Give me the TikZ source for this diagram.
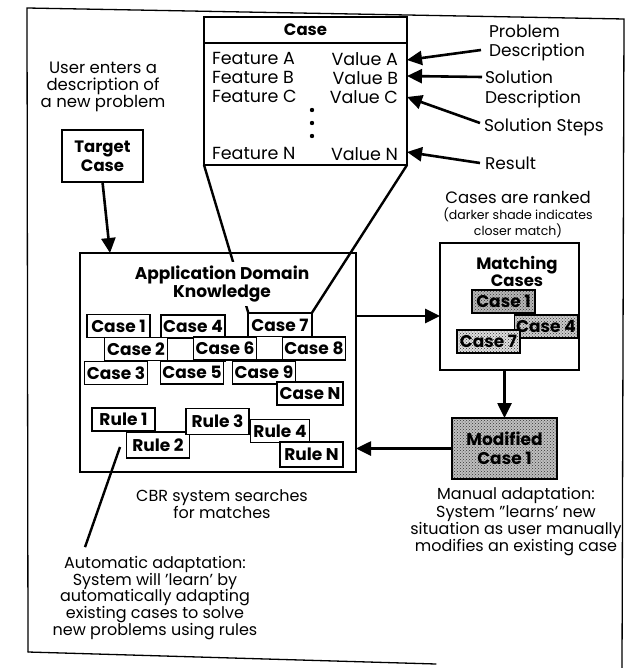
\documentclass[tikz,border=0pt]{standalone}
\usepackage{fontspec}
\setmainfont{Poppins}
\usetikzlibrary{arrows.meta,patterns,calc}

\tikzset{
  every node/.style={inner sep=0pt, outer sep=0pt},
  txt/.style={font=\fontsize{16}{16.8}\selectfont, align=center},
  side/.style={font=\fontsize{17}{19.5}\selectfont, align=left},
  field/.style={font=\fontsize{17.5}{18}\selectfont},
  small/.style={font=\fontsize{12.5}{15.5}\selectfont, align=center},
  cbox/.style={draw, fill=white, line width=1.3pt, minimum width=63pt,
    minimum height=23pt, font=\bfseries\fontsize{17}{17}\selectfont},
  shaded/.style={cbox, preaction={fill=black!#1}, pattern=crosshatch dots,
    pattern color=black!80},
  bigbox/.style={draw, fill=white, line width=2pt},
  arr/.style={line width=2.6pt, -{Triangle[length=15pt,width=14pt]}},
  zoomline/.style={line width=2.4pt},
  frame/.style={line width=1.3pt, line cap=round}
}

\begin{document}
\begin{tikzpicture}[x=1pt,y=-1pt]
\useasboundingbox (0,0) rectangle (634,668);

% outer frame
\draw[frame] (28,652) -- (27,8) -- (624,19) -- (622,668);
\draw[frame] (28,652) -- (436,664);

% the case record
\node[bigbox, minimum width=203pt, minimum height=148pt] (case) at (305.5,91) {};
\draw[line width=2pt] (case.west |- 0,43) -- (case.east |- 0,43);
\node[font=\bfseries\fontsize{16.5}{17}\selectfont] (casetitle) at (305.5,30) {Case};
\node[field, anchor=west] (fA) at (212,58) {Feature A};
\node[field, anchor=west] (fB) at (212,77) {Feature B};
\node[field, anchor=west] (fC) at (212,96) {Feature C};
\node[field, anchor=west] (fN) at (212,153) {Feature N};
\node[field, anchor=east] (vA) at (398,59) {Value A};
\node[field, anchor=east] (vB) at (398,78) {Value B};
\node[field, anchor=east] (vC) at (398,97) {Value C};
\node[field, anchor=east] (vN) at (398,154) {Value N};
\foreach \yy in {110,123,136} \fill (312,\yy) circle (2.2pt);

% field annotations
\node[side, anchor=west] (prob) at (489,43) {Problem\\Description};
\node[side, anchor=west] (sol) at (485,89) {Solution\\Description};
\node[side, anchor=west] (steps) at (484,127) {Solution Steps};
\node[side, anchor=west] (res) at (485,163) {Result};
\coordinate (probT) at (481,50);
\coordinate (solT) at (482,77);
\coordinate (stepsT) at (480,123);
\coordinate (resT) at (480,163);
\draw[arr] (probT) -- (case.east |- 0,60);
\draw[arr] (solT) -- (case.east |- 0,76);
\draw[arr] (stepsT) -- (case.east |- 0,97);
\draw[arr] (resT) -- (case.east |- 0,152);

% user input
\node[txt, font=\fontsize{16.5}{16.8}\selectfont] (user) at (103,87) {User enters a\\description of\\a new problem};
\node[bigbox, minimum width=81pt, minimum height=52pt, align=center,
  font=\bfseries\fontsize{16.5}{19}\selectfont] (target) at (102.5,156) {Target\\Case};

% application domain knowledge
\node[bigbox, minimum width=276pt, minimum height=219pt] (adk) at (218,362.5) {};
\coordinate (adkin) at (110,253);
\draw[arr] (target.south) -- (adkin);

% cases held in the knowledge base
\draw[line width=1.3pt, fill=white] (161,315) rectangle (225,361);
\draw[line width=1.3pt, fill=white] (248,313) rectangle (312,360);
\node[cbox] (c1) at (118.5,326) {Case 1};
\node[cbox] (c4) at (193,326.5) {Case 4};
\node[cbox] (c7) at (280,325) {Case 7};
\node[cbox] (c2) at (136,349) {Case 2};
\node[cbox] (c6) at (225,348.5) {Case 6};
\node[cbox] (c8) at (314,348.5) {Case 8};
\node[cbox] (c3) at (116,373) {Case 3};
\node[cbox] (c5) at (192,372.5) {Case 5};
\node[cbox] (c9) at (264,372.5) {Case 9};
\node[cbox, minimum width=66pt] (cN) at (310,393.5) {Case N};

% rules
\node[cbox] (r1) at (123.5,419.5) {Rule 1};
\node[cbox, minimum height=26pt] (r2) at (158,445) {Rule 2};
\node[cbox, minimum height=26pt] (r3) at (217.5,421.5) {Rule 3};
\node[cbox, minimum width=59pt] (r4) at (280,431) {Rule 4};
\node[cbox, minimum height=25pt] (rN) at (311.5,454.5) {Rule N};

% lines opening the case record out of Case 7
\draw[zoomline] (case.south west) -- (c7.north west);
\draw[zoomline] (case.south east) -- (c7.north east);
\node[align=center, fill=white, inner xsep=3pt, inner ysep=4pt,
  font=\bfseries\fontsize{17}{16.5}\selectfont] (adktitle) at (222,284)
  {Application Domain\\Knowledge};

% matching cases
\node[bigbox, minimum width=139pt, minimum height=127pt] (match) at (509.5,306.5) {};
\node[align=center, font=\bfseries\fontsize{16.5}{17.5}\selectfont] (matchtitle)
  at (517,271.5) {Matching\\Cases};
\node[shaded=28] (m1) at (503.5,301.5) {Case 1};
\node[shaded=20] (m4) at (546,326.5) {Case 4};
\node[shaded=12] (m7) at (488.5,341.5) {Case 7};
\node[txt, font=\fontsize{16.5}{17}\selectfont] (ranked) at (518,197) {Cases are ranked};
\node[small] (shade) at (518,223) {(darker shade indicates\\closer match)};

\coordinate (srch) at (356,316);
\draw[arr] (srch) -- (srch -| match.west);

% modified case
\node[bigbox, minimum width=105pt, minimum height=61pt, align=center,
  preaction={fill=black!25}, pattern=crosshatch dots, pattern color=black!80,
  font=\bfseries\fontsize{17}{19}\selectfont] (mod) at (504.5,448.5) {Modified\\Case 1};
\draw[arr] (match.south -| mod.north) -- (mod.north);
\draw[arr] (mod.west) -- (mod.west -| adk.east);

% captions
\node[txt] (cbr) at (222,504) {CBR system searches\\for matches};
\node[txt, font=\fontsize{16}{17.3}\selectfont] (manual) at (516,522) {Manual adaptation:\\System "learns' new\\situation as user manually\\modifies an existing case};
\node[txt] (auto) at (155,598) {Automatic adaptation:\\System will 'learn' by\\automatically adapting\\existing cases to solve\\new problems using rules};
\coordinate (autoin) at (120,447);
\draw[line width=2.4pt] (auto.north west -| 85,0) ++(0,-9) -- (autoin);

\end{tikzpicture}
\end{document}
